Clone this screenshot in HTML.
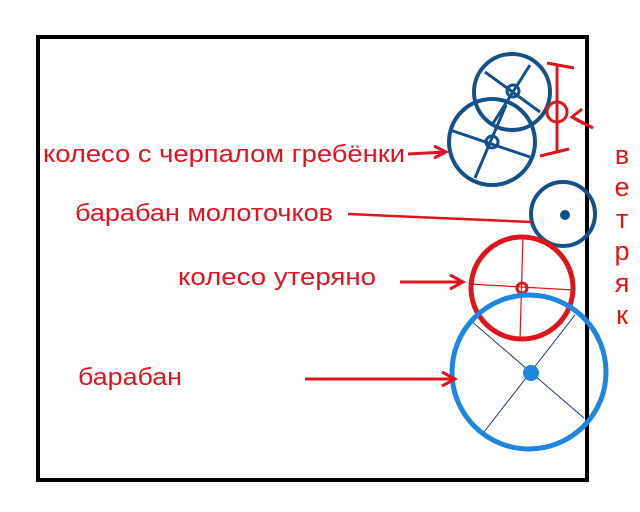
<!DOCTYPE html>
<html><head><meta charset="utf-8"><style>
html,body{margin:0;padding:0;background:#fff;width:640px;height:512px;overflow:hidden}
svg{display:block}
text{font-family:"Liberation Sans","DejaVu Sans",sans-serif;fill:#e0141c}
</style></head><body>
<svg width="640" height="512" viewBox="0 0 640 512" xmlns="http://www.w3.org/2000/svg">
<rect x="38" y="37" width="549" height="443" fill="none" stroke="#000" stroke-width="4"/>
<g stroke="#14508a" fill="none">
<circle cx="512" cy="92" r="38" stroke-width="4"/>
<line x1="485" y1="72" x2="540" y2="112" stroke-width="3"/>
<line x1="530" y1="65" x2="492" y2="125" stroke-width="3"/>
<circle cx="513" cy="91" r="6" stroke-width="3"/>
<circle cx="492" cy="142" r="43" stroke-width="4"/>
<line x1="450" y1="130" x2="530" y2="157" stroke-width="3"/>
<line x1="506" y1="105" x2="475" y2="178" stroke-width="3"/>
<circle cx="492" cy="142" r="6" stroke-width="3"/>
<circle cx="563" cy="214" r="32" stroke-width="4"/>
</g>
<circle cx="565" cy="215" r="5" fill="#14508a"/>
<g stroke="#e0141c" fill="none" stroke-width="3">
<line x1="557" y1="66" x2="557" y2="153"/>
<line x1="547" y1="63" x2="574" y2="68"/>
<line x1="540" y1="156" x2="569" y2="149"/>
<circle cx="557" cy="112" r="10"/>
<line x1="593" y1="128" x2="572" y2="117"/>
<polyline points="582,109 572,117 584,124"/>
</g>
<g stroke="#e0141c" fill="none">
<line x1="469" y1="284" x2="574" y2="290" stroke-width="1.2"/>
<line x1="523" y1="236" x2="520" y2="340" stroke-width="1.2"/>
<circle cx="522" cy="288" r="51" stroke-width="5"/>
<circle cx="522" cy="288" r="5" stroke-width="3"/>
</g>
<g stroke="#1e86e0" fill="none">
<line x1="470" y1="320" x2="584" y2="418" stroke="#1a3c6a" stroke-width="1"/>
<line x1="575" y1="315" x2="484" y2="432" stroke="#1a3c6a" stroke-width="1"/>
<circle cx="529" cy="372" r="77" stroke-width="5"/>
</g>
<circle cx="531" cy="373" r="8" fill="#1e86e0"/>
<text x="43" y="162" font-size="24" textLength="362" lengthAdjust="spacingAndGlyphs">колесо с черпалом гребёнки</text>
<text x="75" y="221" font-size="24" textLength="258" lengthAdjust="spacingAndGlyphs">барабан молоточков</text>
<text x="178" y="285" font-size="24" textLength="198" lengthAdjust="spacingAndGlyphs">колесо утеряно</text>
<text x="78" y="385" font-size="24" textLength="104" lengthAdjust="spacingAndGlyphs">барабан</text>
<g stroke="#e0141c" fill="none" stroke-width="3">
<line x1="408" y1="154" x2="446" y2="152"/>
<polyline points="434,146 446,152 434,158"/>
<line x1="348" y1="214" x2="531" y2="222" stroke-width="2.5"/>
<line x1="400" y1="282" x2="463" y2="282"/>
<polyline points="450,275 463,282 450,289"/>
<line x1="305" y1="379" x2="455" y2="379"/>
<polyline points="442,372 455,379 442,386"/>
</g>
<g font-size="27" text-anchor="middle">
<text x="622" y="164">в</text>
<text x="622" y="196">е</text>
<text x="622" y="228">т</text>
<text x="622" y="260">р</text>
<text x="622" y="292">я</text>
<text x="622" y="324">к</text>
</g>
</svg>
</body></html>
